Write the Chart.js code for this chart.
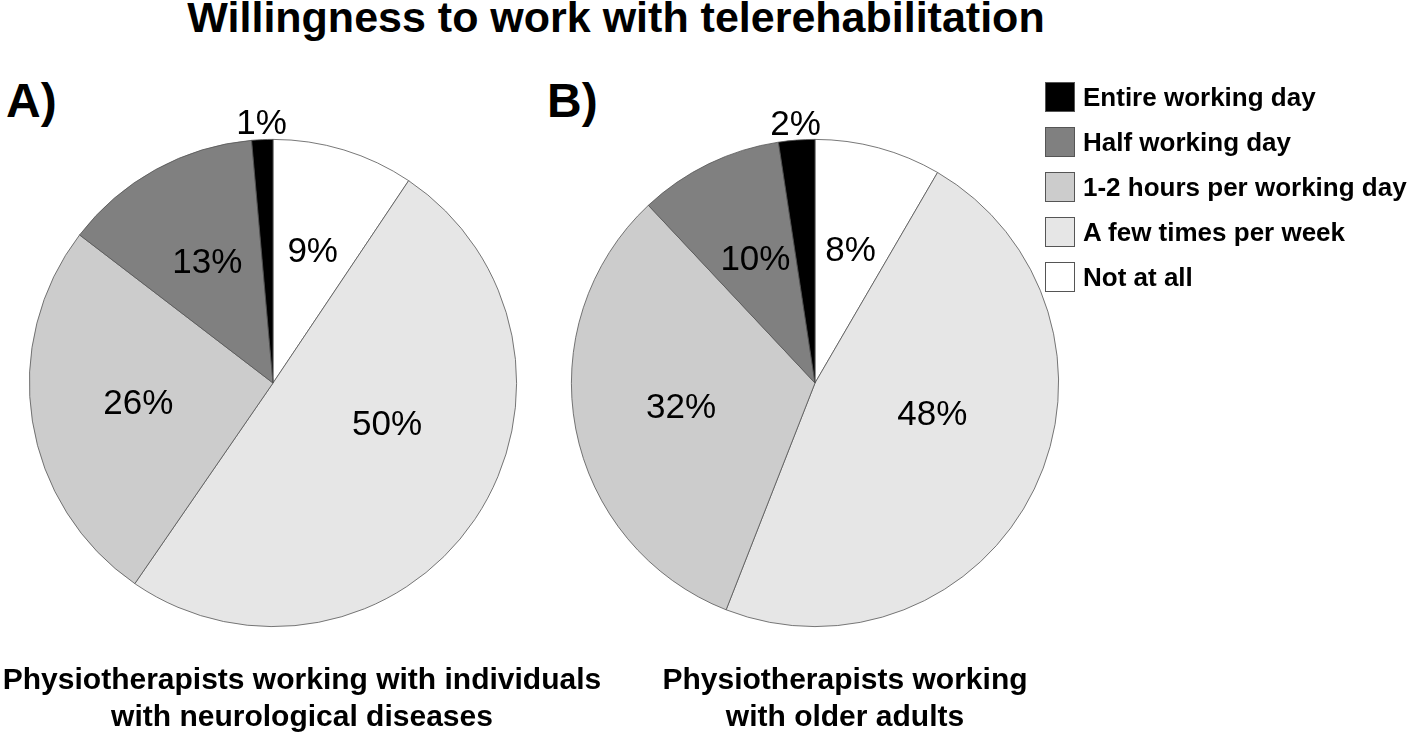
<!DOCTYPE html>
<html>
<head>
<meta charset="utf-8">
<script src="https://cdn.jsdelivr.net/npm/chart.js@4"></script>
<style>
  body { margin: 0; background: #fff; font-family: "Liberation Sans", Arial, sans-serif; }
  #page { position: relative; width: 1416px; height: 735px; overflow: hidden; }
  .abs { position: absolute; }
  #title { left: 0; top: -4px; width: 1232px; text-align: center; font-weight: bold; font-size: 43px; line-height: 43px; white-space: nowrap; }
  .panel { font-weight: bold; font-size: 48px; line-height: 48px; top: 77px; }
  .sub { top: 660px; width: 700px; text-align: center; font-weight: bold; font-size: 30px; line-height: 37px; white-space: nowrap; }
  .box { width: 640px; height: 640px; }
  #legend { left: 1045px; top: 82px; }
  .row { display: flex; align-items: center; height: 30px; margin-bottom: 15px; }
  .sw { width: 28px; height: 28px; border: 1px solid #555; margin-right: 8px; flex: none; }
  .lt { font-weight: bold; font-size: 26px; white-space: nowrap; }
</style>
</head>
<body>
<div id="page">
  <div id="title" class="abs">Willingness to work with telerehabilitation</div>
  <div class="abs panel" style="left:6px">A)</div>
  <div class="abs panel" style="left:547px">B)</div>
  <div class="abs box" style="left:-47px; top:63px"><canvas id="pieA" width="640" height="640"></canvas></div>
  <div class="abs box" style="left:495px; top:63px"><canvas id="pieB" width="640" height="640"></canvas></div>
  <div class="abs sub" style="left:-48px">Physiotherapists working with individuals<br>with neurological diseases</div>
  <div class="abs sub" style="left:495px">Physiotherapists working<br>with older adults</div>
  <div id="legend" class="abs"></div>
</div>
<script>
// slices clockwise from 12 o'clock
const categories = ["Not at all", "A few times per week", "1-2 hours per working day", "Half working day", "Entire working day"];
const colors = ["#ffffff", "#e6e6e6", "#cccccc", "#808080", "#000000"];
const neuroValues = [9.4, 50.2, 25.8, 13.2, 1.4];
const olderValues = [8.4, 47.6, 32.1, 9.6, 2.4];

// legend, listed in reverse order
const legend = document.getElementById("legend");
for (let i = categories.length - 1; i >= 0; i--) {
  const row = document.createElement("div");
  row.className = "row";
  row.innerHTML = '<div class="sw" style="background:' + colors[i] + '"></div><div class="lt">' + categories[i] + "</div>";
  legend.appendChild(row);
}

const pctLabels = {
  id: "pctLabels",
  afterDatasetsDraw(chart) {
    const ctx = chart.ctx;
    const meta = chart.getDatasetMeta(0);
    const vals = chart.data.datasets[0].data;
    ctx.save();
    ctx.font = "35px 'Liberation Sans', Arial, sans-serif";
    ctx.fillStyle = "#000";
    ctx.textAlign = "center";
    ctx.textBaseline = "middle";
    meta.data.forEach((arc, i) => {
      const p = arc.getProps(["x", "y", "startAngle", "endAngle", "outerRadius"], true);
      let mid = (p.startAngle + p.endAngle) / 2;
      let r = p.outerRadius * 0.56;
      if (vals[i] < 3) {
        r = p.outerRadius + 15;
      } else if (vals[i] > 40) {
        // big slice: pull label toward horizontal, like the original
        mid = mid * 0.6;
        r = p.outerRadius * 0.5;
      }
      ctx.fillText(Math.round(vals[i]) + "%", p.x + Math.cos(mid) * r, p.y + Math.sin(mid) * r);
    });
    ctx.restore();
  },
};

const makePie = (id, values) => {
  new Chart(document.getElementById(id), {
    type: "pie",
    data: {
      labels: categories,
      datasets: [
        {
          data: values,
          backgroundColor: colors,
          borderColor: "#555555",
          borderWidth: 0.8,
        },
      ],
    },
    options: {
      responsive: false,
      animation: false,
      layout: { padding: 76 },
      plugins: {
        legend: { display: false },
        tooltip: { enabled: false },
      },
    },
    plugins: [pctLabels],
  });
};

makePie("pieA", neuroValues);
makePie("pieB", olderValues);
</script>
</body>
</html>
